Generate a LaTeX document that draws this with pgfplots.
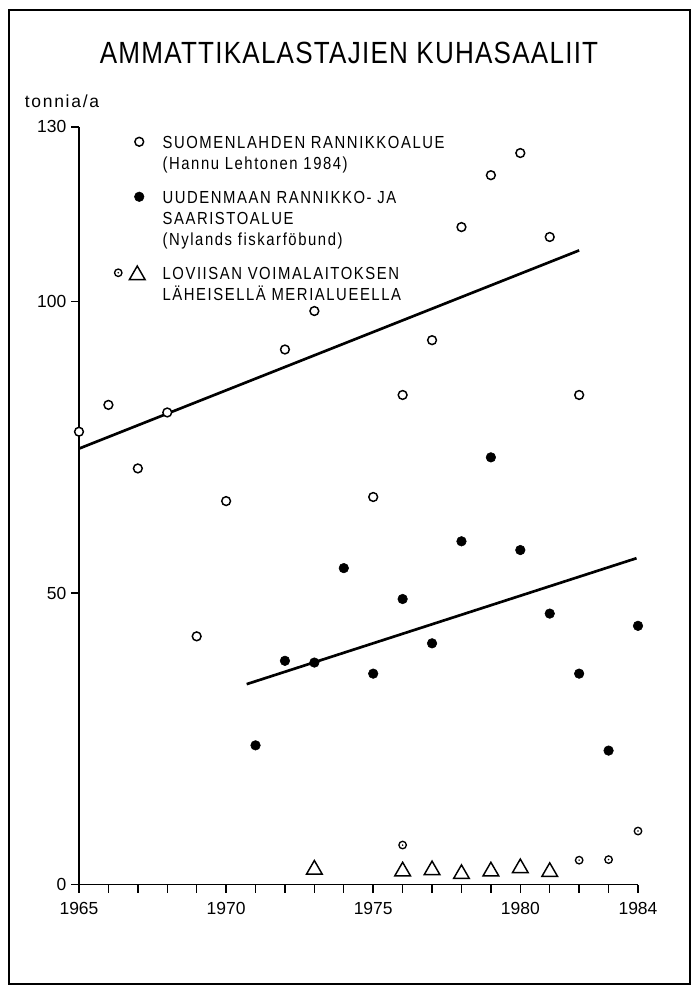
\documentclass[border=0pt]{standalone}
\usepackage{fontspec}
\setmainfont{Liberation Sans}
\newfontfamily\legfamily[FakeStretch=0.85, LetterSpace=9]{Liberation Sans}
\newfontfamily\titlefamily[FakeStretch=0.85, LetterSpace=4]{Liberation Sans}
\newfontfamily\unitfamily[LetterSpace=10]{Liberation Sans}
\newcommand\legfont{\legfamily\fontsize{13.1pt}{15.75pt}\selectfont}
\newcommand\titlefont{\titlefamily\fontsize{23pt}{27pt}\selectfont}
\newcommand\tickfont{\fontsize{13.1pt}{15.75pt}\selectfont}
\usepackage{pgfplots}
\pgfplotsset{compat=1.18}
\pgfdeclareplotmark{odot}{%
  \pgfpathcircle{\pgfpointorigin}{\pgfplotmarksize}%
  \pgfusepathqfillstroke
  \begin{pgfscope}%
  \pgfpathcircle{\pgfpointorigin}{0.65pt}%
  \pgfsetfillcolor{black}%
  \pgfusepathqfill
  \end{pgfscope}}
\begin{document}
\begin{tikzpicture}
\path[use as bounding box] (0,0) rectangle (522pt,-739.5pt);
\draw[line width=1.3pt] (6.75pt,-7.5pt) rectangle (517.5pt,-738pt);
\begin{axis}[
  at={(59.25pt,-663.5pt)}, anchor=south west,
  scale only axis, width=419.25pt, height=568.4pt,
  xmin=1965, xmax=1984, ymin=0, ymax=130,
  axis lines*=left,
  axis line style={line width=1.1pt, -},
  x axis line style={shorten <=-4.5pt},
  xtick={1965,1970,1975,1980,1984},
  minor xtick={1965,...,1984},
  ytick={0,50,100,130},
  tick align=outside,
  major tick length=6pt, minor tick length=6pt,
  every tick/.style={line width=1.1pt, black},
  minor tick style={line width=1.1pt, black},
  tick label style={font=\tickfont},
  x tick label style={/pgf/number format/1000 sep={}, yshift=-3.5pt},
  /pgf/number format/assume math mode=true,
  clip=false,
  title={AMMATTIKALASTAJIEN KUHASAALIIT},
  title style={at={(axis description cs:0.483,1.0868)}, anchor=center, font=\titlefont, inner sep=0pt},
  ylabel={tonnia/a},
  ylabel style={rotate=-90, at={(axis description cs:-0.0975,1.0261)}, anchor=base west, font=\unitfamily\fontsize{13.1pt}{15.75pt}\selectfont, inner sep=0pt},
  legend style={at={(axis description cs:0.059,0.9914)}, anchor=north west,
    draw=none, fill=none, inner sep=0pt, outer sep=0pt,
    row sep=9.75pt, column sep=11.8pt, font=\legfont,
    cells={anchor=base west}, nodes={inner sep=0pt, text depth={}, text height={}}},
]
% trend lines
\addplot[forget plot, line width=2pt, black] coordinates {(1965,74.8) (1982,108.8)};
\addplot[forget plot, line width=2pt, black] coordinates {(1970.7,34.4) (1983.95,56.0)};
% Suomenlahden rannikkoalue
\addplot[only marks, mark=*, mark size=3.3pt, mark options={fill=white, draw=black, line width=1.1pt},
  legend image code/.code={
    \path (-18.75pt,0pt) (7pt,0pt);
    \draw[mark=*, mark size=3.3pt, mark options={fill=white, draw=black, line width=1.1pt}] plot coordinates {(1.5pt,4.7pt)};
  }] coordinates {
  (1965,77.7) (1966,82.3) (1967,71.4) (1968,81.0) (1969,42.6) (1970,65.8)
  (1972,91.8) (1973,98.4) (1975,66.5) (1976,84.0) (1977,93.4) (1978,112.8)
  (1979,121.7) (1980,125.5) (1981,111.1) (1982,84.0)};
\addlegendentry{\begin{tabular}[t]{@{}l@{}}SUOMENLAHDEN RANNIKKOALUE\\(Hannu Lehtonen 1984)\end{tabular}}
% Uudenmaan rannikko- ja saaristoalue
\addplot[only marks, mark=*, mark size=3.6pt, mark options={fill=black, draw=black},
  legend image code/.code={
    \path (-18.75pt,0pt) (7pt,0pt);
    \draw[mark=*, mark size=3.6pt, mark options={fill=black, draw=black}] plot coordinates {(1.5pt,4.7pt)};
  }] coordinates {
  (1971,23.9) (1972,38.4) (1973,38.1) (1974,54.3) (1975,36.2) (1976,49.0)
  (1977,41.4) (1978,58.9) (1979,73.3) (1980,57.4) (1981,46.5) (1982,36.2)
  (1983,23.0) (1984,44.4)};
\addlegendentry{\begin{tabular}[t]{@{}l@{}}UUDENMAAN RANNIKKO- JA\\SAARISTOALUE\\(Nylands fiskarföbund)\end{tabular}}
% Loviisan voimalaitoksen laheisella merialueella
\addplot[forget plot, only marks, mark=odot, mark size=2.8pt, mark options={fill=white, draw=black, line width=1pt}] coordinates {
  (1976,6.8) (1982,4.2) (1983,4.3) (1984,9.2)};
\addplot[only marks, mark=triangle, mark size=6.75pt, mark options={fill=white, draw=black, line width=1.1pt},
  legend image code/.code={
    \path (-18.75pt,0pt) (7pt,0pt);
    \draw[mark=odot, mark size=2.8pt, mark options={fill=white, draw=black, line width=1pt}] plot coordinates {(-14.25pt,4.7pt)};
    \draw[mark=triangle, mark size=6.75pt, mark options={fill=white, draw=black, line width=1.1pt}] plot coordinates {(0pt,3pt)};
  }] coordinates {
  (1973,2.6) (1976,2.3) (1977,2.5) (1978,1.85) (1979,2.3) (1980,2.85) (1981,2.2)};
\addlegendentry{\begin{tabular}[t]{@{}l@{}}LOVIISAN VOIMALAITOKSEN\\LÄHEISELLÄ MERIALUEELLA\end{tabular}}
\end{axis}
\end{tikzpicture}
\end{document}
